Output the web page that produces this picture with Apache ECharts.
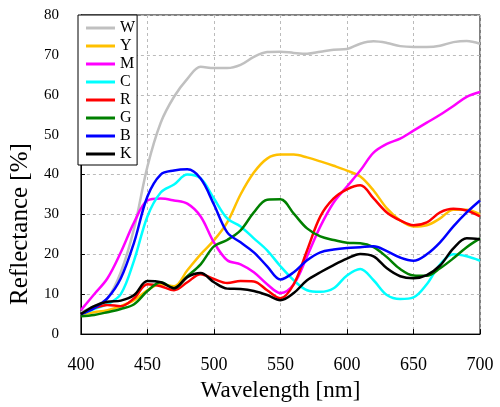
<!DOCTYPE html>
<html>
<head>
<meta charset="utf-8">
<script src="https://cdn.jsdelivr.net/npm/echarts@6/dist/echarts.min.js"></script>
<style>html,body{margin:0;padding:0;background:#fff}#c{width:500px;height:407px}</style>
</head>
<body>
<div id="c"></div>
<script>
const wavelengths = [400,410,420,430,440,450,460,470,480,490,500,510,520,530,540,550,560,570,580,590,600,610,620,630,640,650,660,670,680,690,700];
const W = [5.5,7,9,15.5,26.5,42,53,59.5,64,67,66.7,66.7,67.5,69.5,70.7,70.8,70.5,70.3,70.8,71.3,71.5,72.8,73.4,73,72.2,72,72,72.3,73.2,73.5,72.8];
const Y = [5,5.5,6,7,8.5,11,12.5,12,16,20,23.5,28,35,40.5,44,45,45,44.3,43.3,42.2,41,39.5,36,31.5,28.5,27,27.3,29,31.2,31.2,30];
const M = [6,10,14,20.5,28,33.5,34,33.5,32.7,29.5,23,18.5,17.5,15.5,12.5,10.3,12.5,19.5,27,33,37,41,45.5,47.7,49,51,53,55,57.2,59.5,60.7];
const C = [5,6.3,7.5,10,18.5,29.5,35.5,37.5,40,39,34,29,27,24,21,17,13.5,11,10.6,11.5,14.7,16.3,13.5,9.8,8.8,9.2,12.5,17.5,20,19.5,18.4];
const R = [5,6.5,7.3,7,9,12.5,12,11,13,15,13.8,12.8,13.3,13.2,11,9,12.5,21,29.5,34,36.3,37.3,34,30.5,28.5,27.3,28,30.5,31.4,31,29.5];
const G = [4.5,4.8,5.5,6.3,7.5,10.8,13,11.5,14.5,17.5,22,23.6,26,30.5,33.7,33.8,30.2,26.5,24.5,23.6,22.9,22.8,21.8,19.3,16.3,14.7,14.6,16.5,19,21.8,24];
const B = [5,6.5,9,14,23,34.5,40,41,41.3,39,32.5,25.5,23,20.5,17,13.7,15.5,18.5,20.5,21.2,21.6,21.8,22,20.8,19.2,18.4,20,23,27,30.5,33.5];
const K = [5,7,8.1,8.4,9.8,13.3,13,11.5,14.3,15.3,13,11.4,11.3,10.8,9.8,8.5,10.3,13.5,15.5,17.3,18.9,20.1,19.5,16.5,14.5,14,14.8,17.2,21.5,24,23.8];
const seriesNames = ['W','Y','M','C','R','G','B','K'];
const seriesData = [W,Y,M,C,R,G,B,K];
const colors = ['#c0c0c0','#ffc000','#ff00ff','#00ffff','#ff0000','#008000','#0000ff','#000000'];

const serif = 'Liberation Serif, Times New Roman, serif';
const chart = echarts.init(document.getElementById('c'));
chart.setOption({
  animation: false,
  backgroundColor: '#fff',
  grid: {left: 78, right: 20, top: 15, bottom: 67, show: true, borderColor: '#000', borderWidth: 1, backgroundColor: 'transparent'},
  legend: {
    orient: 'vertical', left: 78, top: 15,
    icon: 'rect',
    itemWidth: 29, itemHeight: 3, itemGap: 2,
    padding: [5, 2, 3, 8],
    backgroundColor: '#fff', borderColor: '#000', borderWidth: 1, borderRadius: 0,
    textStyle: {fontFamily: serif, fontSize: 16, color: '#000'},
    data: seriesNames
  },
  xAxis: {
    type: 'value', min: 400, max: 700, interval: 50,
    name: 'Wavelength [nm]', nameLocation: 'middle', nameGap: 38,
    nameTextStyle: {fontFamily: serif, fontSize: 23, color: '#000'},
    axisLine: {lineStyle: {color: '#000', width: 1}},
    axisTick: {inside: true, length: 5, lineStyle: {color: '#000'}},
    axisLabel: {fontFamily: serif, fontSize: 18, color: '#000', margin: 22},
    splitLine: {show: true, lineStyle: {color: '#bbb', type: [3, 3], width: 1}}
  },
  yAxis: {
    type: 'value', min: 0, max: 80, interval: 10,
    name: 'Reflectance [%]', nameLocation: 'middle', nameGap: 40,
    nameTextStyle: {fontFamily: serif, fontSize: 25, color: '#000', padding: [0, 99, 0, 0]},
    axisLine: {lineStyle: {color: '#000', width: 1}},
    axisTick: {inside: true, length: 4, lineStyle: {color: '#000'}},
    axisLabel: {fontFamily: serif, fontSize: 15, color: '#000', margin: 22},
    splitLine: {show: true, lineStyle: {color: '#bbb', type: [3, 3], width: 1}}
  },
  series: seriesNames.map((n, i) => ({
    name: n, type: 'line', smooth: 0.35, symbol: 'none',
    color: colors[i],
    lineStyle: {width: 2.5, color: colors[i]},
    data: wavelengths.map((w, j) => [w, seriesData[i][j]])
  }))
});
</script>
</body>
</html>
